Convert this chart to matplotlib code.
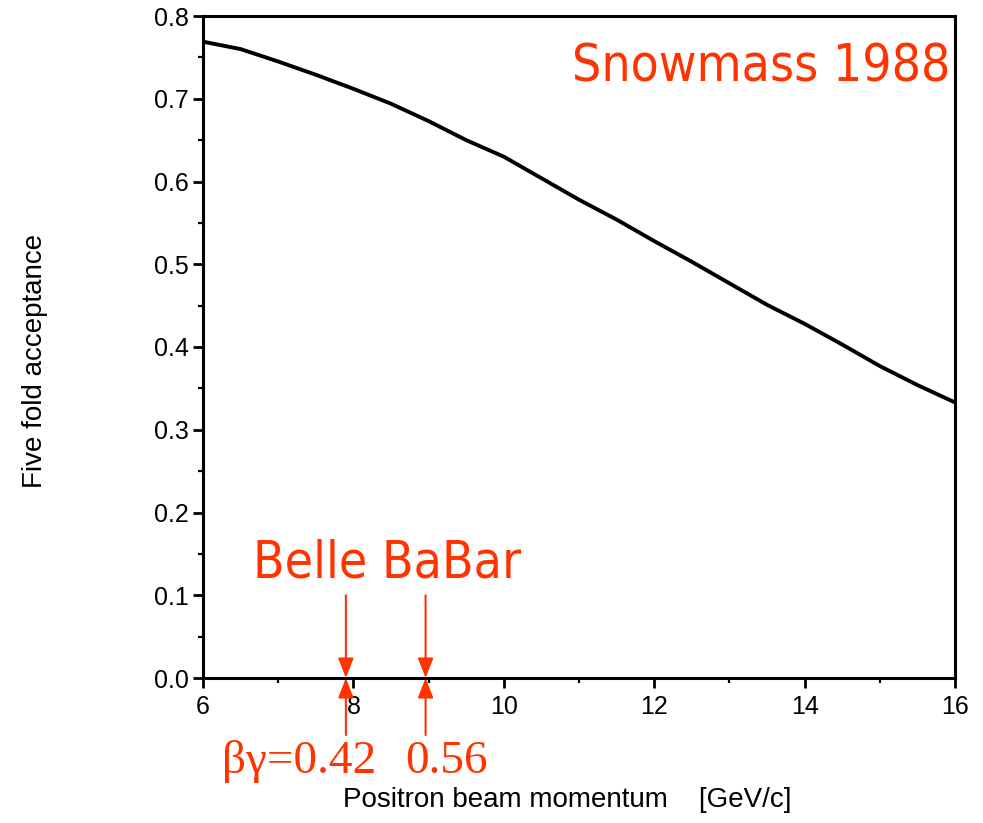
import matplotlib
matplotlib.use("Agg")
import matplotlib.pyplot as plt
from matplotlib.ticker import MultipleLocator, FixedLocator

plt.rcParams["font.family"] = ["Liberation Sans", "DejaVu Sans"]

# Five-fold acceptance versus positron beam momentum
momentum = [6.0, 6.5, 7.0, 7.5, 8.0, 8.5, 9.0, 9.5, 10.0, 10.5, 11.0,
            11.5, 12.0, 12.5, 13.0, 13.5, 14.0, 14.5, 15.0, 15.5, 16.0]
acceptance = [0.769, 0.760, 0.745, 0.729, 0.712, 0.694, 0.673, 0.650, 0.630,
              0.604, 0.578, 0.554, 0.528, 0.503, 0.477, 0.451, 0.428, 0.403,
              0.377, 0.354, 0.333]

# Experiment beam momenta and their boosts
experiments = ["Belle", "BaBar"]
exp_momentum = [7.9, 8.96]
boost_labels = ["βγ=0.42", "0.56"]

x_ticks = [6, 8, 10, 12, 14, 16]
y_ticks = [0.0, 0.1, 0.2, 0.3, 0.4, 0.5, 0.6, 0.7, 0.8]

RED = "#ff3300"
W, H = 983, 823

fig = plt.figure(figsize=(W / 100, H / 100), dpi=100)
ax = fig.add_axes([203 / W, 1 - 678 / H, (955 - 203) / W, (678 - 16) / H])

ax.plot(momentum, acceptance, color="black", lw=2.8, solid_capstyle="butt")

ax.set_xlim(6, 16)
ax.set_ylim(0, 0.8)
ax.xaxis.set_major_locator(FixedLocator(x_ticks))
ax.xaxis.set_minor_locator(MultipleLocator(1))
ax.yaxis.set_major_locator(FixedLocator(y_ticks))
ax.yaxis.set_minor_locator(MultipleLocator(0.05))
ax.set_xticklabels([str(v) for v in x_ticks])
ax.set_yticklabels([f"{v:.1f}" for v in y_ticks])

for s in ax.spines.values():
    s.set_linewidth(2.2)
ax.tick_params(which="major", direction="out", length=7, width=2, pad=3,
               labelsize=18)
ax.tick_params(axis="x", which="major", pad=5)
ax.tick_params(which="minor", direction="out", length=3.5, width=1.6)

fig.text(35 / W, 1 - 361 / H, "Five fold acceptance", rotation=90,
         ha="center", va="center", fontsize=20)
fig.text(343 / W, 1 - 800 / H, "Positron beam momentum    [GeV/c]",
         ha="left", va="center", fontsize=20)

# Red annotations
fig.text(950 / W, 1 - 81 / H, "Snowmass 1988", ha="right", va="baseline",
         color=RED, fontsize=37, family="DejaVu Sans", stretch="condensed")
fig.text(253 / W, 1 - 578 / H, " ".join(experiments), ha="left",
         va="baseline", color=RED, fontsize=37, family="DejaVu Sans",
         stretch="condensed")
fig.text(222 / W, 1 - 773 / H, boost_labels[0], ha="left", va="baseline",
         color=RED, fontsize=34, family="Liberation Serif")
fig.text(405 / W, 1 - 773 / H, boost_labels[1], ha="left", va="baseline",
         color=RED, fontsize=34, family="Liberation Serif")

arrow = dict(arrowstyle="-|>,head_length=1.2,head_width=0.47",
             mutation_scale=10, color=RED, lw=1.5, shrinkA=0, shrinkB=0)
for xm in exp_momentum:
    ax.annotate("", xy=(xm, 0.0), xytext=(xm, 0.1), arrowprops=arrow,
                annotation_clip=False, zorder=10)
    ax.annotate("", xy=(xm, 0.0), xytext=(xm, -0.069), arrowprops=arrow,
                annotation_clip=False, zorder=10)

fig.savefig("out.png", dpi=100)
